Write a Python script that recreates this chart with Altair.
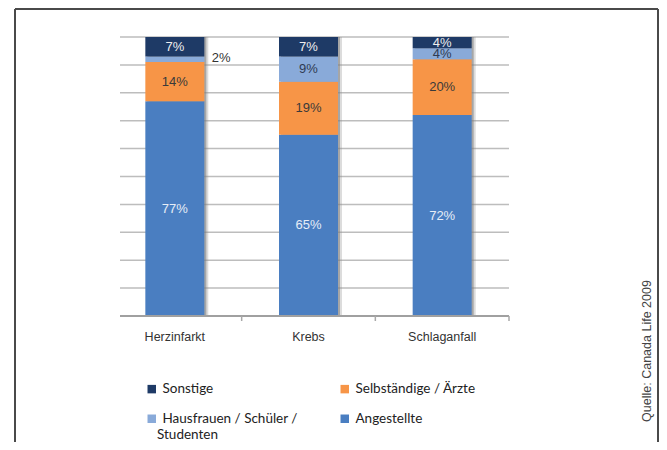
import altair as alt
import pandas as pd

# ---- data ----
categories = ["Herzinfarkt", "Krebs", "Schlaganfall"]
# stacked bottom -> top
groups = ["Angestellte", "Selbständige / Ärzte", "Hausfrauen / Schüler / Studenten", "Sonstige"]
angestellte = [77, 65, 72]
selbstaendige = [14, 19, 20]
hausfrauen = [2, 9, 4]
sonstige = [7, 7, 4]
grid_values = [10, 20, 30, 40, 50, 60, 70, 80, 90, 100]

# legend is filled column by column
legend_order = ["Sonstige", "Hausfrauen / Schüler / Studenten", "Selbständige / Ärzte", "Angestellte"]
legend_colors = ["#1e3a66", "#89aad9", "#f79547", "#4a7ec1"]
label_colors = {
    "Angestellte": "#e6edf7",
    "Selbständige / Ärzte": "#3a3a3a",
    "Hausfrauen / Schüler / Studenten": "#2f3b52",
    "Sonstige": "#eeeeee",
}
source_text = "Quelle: Canada Life 2009"

series = [angestellte, selbstaendige, hausfrauen, sonstige]
rows = []
for ci, cat in enumerate(categories):
    base = 0
    for gi, g in enumerate(groups):
        v = series[gi][ci]
        rows.append({
            "cat": cat, "group": g, "order": gi, "value": v,
            "y0": base, "y1": base + v, "mid": base + v / 2,
            "label": f"{v}%", "lc": label_colors[g],
        })
        base += v
df = pd.DataFrame(rows)
totals = df.groupby("cat", as_index=False)["value"].sum()
grid_df = pd.DataFrame({"v": grid_values})
one = pd.DataFrame({"a": [0]})

W, H = 401, 279
yscale = alt.Scale(domain=[0, 100], nice=False)
xscale = alt.Scale(domain=categories, paddingInner=0, paddingOuter=0)
X = alt.X("cat:N", scale=xscale, sort=categories,
          axis=alt.Axis(title=None, ticks=False, domain=False, labelAngle=0,
                        labelFont="Liberation Sans", labelFontSize=12.5,
                        labelColor="#333333", labelPadding=14))

grid = alt.Chart(grid_df).mark_rule(color="#bdbdbd", strokeWidth=1.5).encode(
    y=alt.Y("v:Q", scale=yscale, axis=None), x=alt.value(12), x2=alt.value(W))

shadow1 = alt.Chart(totals).mark_bar(size=59, xOffset=4, color="#8a8a8a", opacity=0.3).encode(
    x=X, y=alt.Y("value:Q", scale=yscale, axis=None))
shadow2 = alt.Chart(totals).mark_bar(size=59, xOffset=2, color="#7a7a7a", opacity=0.55).encode(
    x=X, y=alt.Y("value:Q", scale=yscale, axis=None))

bars = alt.Chart(df).mark_bar(size=59).encode(
    x=X,
    y=alt.Y("y0:Q", scale=yscale, axis=None),
    y2="y1:Q",
    color=alt.Color("group:N",
                    scale=alt.Scale(domain=legend_order, range=legend_colors),
                    legend=alt.Legend(
                        orient="none", legendX=37, legendY=345, columns=2,
                        symbolType="square", symbolSize=72, symbolStrokeWidth=0,
                        labelFont="Lato", labelFontSize=13.5, labelColor="#222222",
                        labelOffset=4, columnPadding=40, rowPadding=15, title=None,
                        padding=0,
                        labelExpr="datum.label == 'Hausfrauen / Schüler / Studenten' ? 'Hausfrauen / Schüler /' : datum.label")),
)

labels_in = alt.Chart(df).transform_filter("datum.value >= 3").mark_text(
    font="Liberation Sans", fontSize=13, baseline="middle", align="center").encode(
    x=X, y=alt.Y("mid:Q", scale=yscale, axis=None), text="label:N",
    fill=alt.Fill("lc:N", scale=None))

labels_out = alt.Chart(df).transform_filter("datum.value < 3").mark_text(
    font="Liberation Sans", fontSize=13, baseline="middle", align="left", dx=37,
    dy=-1, color="#333333").encode(
    x=X, y=alt.Y("mid:Q", scale=yscale, axis=None), text="label:N")

baseline = alt.Chart(one).mark_rule(color="#a0a0a0", strokeWidth=2).encode(
    y=alt.Y("a:Q", scale=yscale, axis=None), x=alt.value(12), x2=alt.value(W))

ticks = alt.Chart(pd.DataFrame({"cat": categories})).mark_rule(color="#a8a8a8", strokeWidth=1.5).encode(
    x=alt.X("cat:N", scale=xscale, sort=categories, bandPosition=1),
    y=alt.value(H), y2=alt.value(H + 5))

frame_color = "#4a4a4a"
frame_top = alt.Chart(one).mark_rule(color=frame_color, strokeWidth=2).encode(
    x=alt.value(-93), x2=alt.value(550), y=alt.value(-28))
frame_left = alt.Chart(one).mark_rule(color=frame_color, strokeWidth=2).encode(
    x=alt.value(-93), y=alt.value(-28), y2=alt.value(410))
frame_right = alt.Chart(one).mark_rule(color=frame_color, strokeWidth=2).encode(
    x=alt.value(550), y=alt.value(-28), y2=alt.value(410))

source = alt.Chart(one).mark_text(
    text=source_text, angle=270, font="Liberation Sans", fontSize=12.5,
    color="#444444", align="center", baseline="middle").encode(
    x=alt.value(539), y=alt.value(314))

studenten = alt.Chart(one).mark_text(
    text="Studenten", font="Lato", fontSize=13.5, color="#222222",
    align="left", baseline="middle").encode(x=alt.value(49), y=alt.value(398))

chart = alt.layer(
    grid, shadow1, shadow2, bars, labels_in, labels_out, baseline, ticks,
    frame_top, frame_left, frame_right, source, studenten
).properties(
    width=W, height=H,
    background="white",
    autosize=alt.AutoSizeParams(type="none"),
    padding={"left": 100, "top": 29, "right": 150, "bottom": 126},
).configure_view(strokeWidth=0)

chart.save("out.html", embed_options={"renderer": "svg", "actions": False})
